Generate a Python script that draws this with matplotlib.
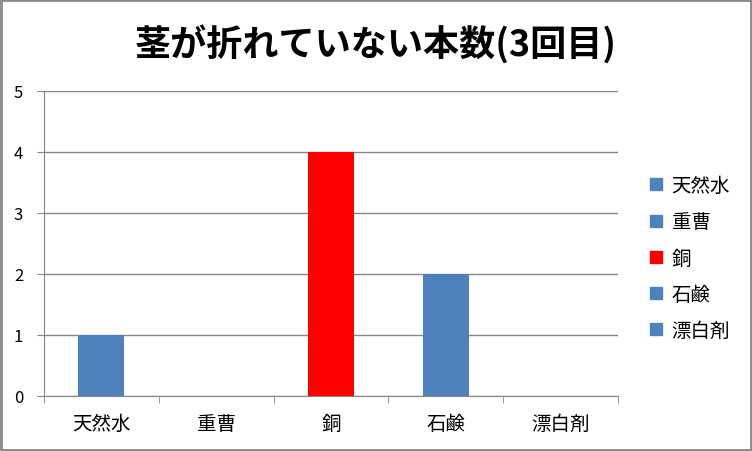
import matplotlib
matplotlib.use("Agg")
import matplotlib.pyplot as plt
from matplotlib.lines import Line2D
from matplotlib.patches import Rectangle

plt.rcParams['font.family'] = ['Noto Sans CJK JP', 'DejaVu Sans']

categories = ['天然水', '重曹', '銅', '石鹸', '漂白剤']
values = [1, 0, 4, 2, 0]
colors = ['#4F81BD', '#4F81BD', '#FF0000', '#4F81BD', '#4F81BD']
yticks = [0, 1, 2, 3, 4, 5]
title = '茎が折れていない本数(3回目)'

fig = plt.figure(figsize=(7.52, 4.52), dpi=100)
fig.patches.append(Rectangle((0.0015, 0.002), 0.997, 0.996, transform=fig.transFigure,
                             fill=False, edgecolor='#888888', linewidth=2))
ax = fig.add_axes([0.0585, 0.1217, 0.763, 0.6748])

x = list(range(len(categories)))
ax.bar(x, values, width=0.4, color=colors, zorder=3)
ax.set_xlim(-0.5, len(categories) - 0.5)
ax.set_ylim(0, 5)
ax.set_yticks(yticks)
ax.set_yticklabels([str(t) for t in yticks], fontsize=12)
ax.yaxis.grid(True, color='#868686', linewidth=1, zorder=0)
ax.set_xticks(x)
ax.set_xticklabels(categories, fontsize=14)
ax.set_xticks([i - 0.5 for i in range(len(categories) + 1)], minor=True)
ax.tick_params(axis='x', which='major', length=0, pad=12)
ax.tick_params(axis='x', which='minor', length=5, color='#868686')
ax.tick_params(axis='y', length=5, color='#868686', pad=10)
for s in ['top', 'right']:
    ax.spines[s].set_visible(False)
ax.spines['left'].set_color('#868686')
ax.spines['bottom'].set_color('#868686')

handles = [Line2D([0], [0], marker='s', linestyle='none', markersize=8,
                  markerfacecolor=c, markeredgecolor=c) for c in colors]
fig.legend(handles, categories, loc='center left', bbox_to_anchor=(0.84, 0.427),
           frameon=False, fontsize=14, handlelength=0.7, handletextpad=0.45,
           labelspacing=0.78)

fig.text(0.5, 0.9, title, ha='center', va='center', fontsize=26, fontweight='bold')

fig.savefig('out.png', dpi=100)
